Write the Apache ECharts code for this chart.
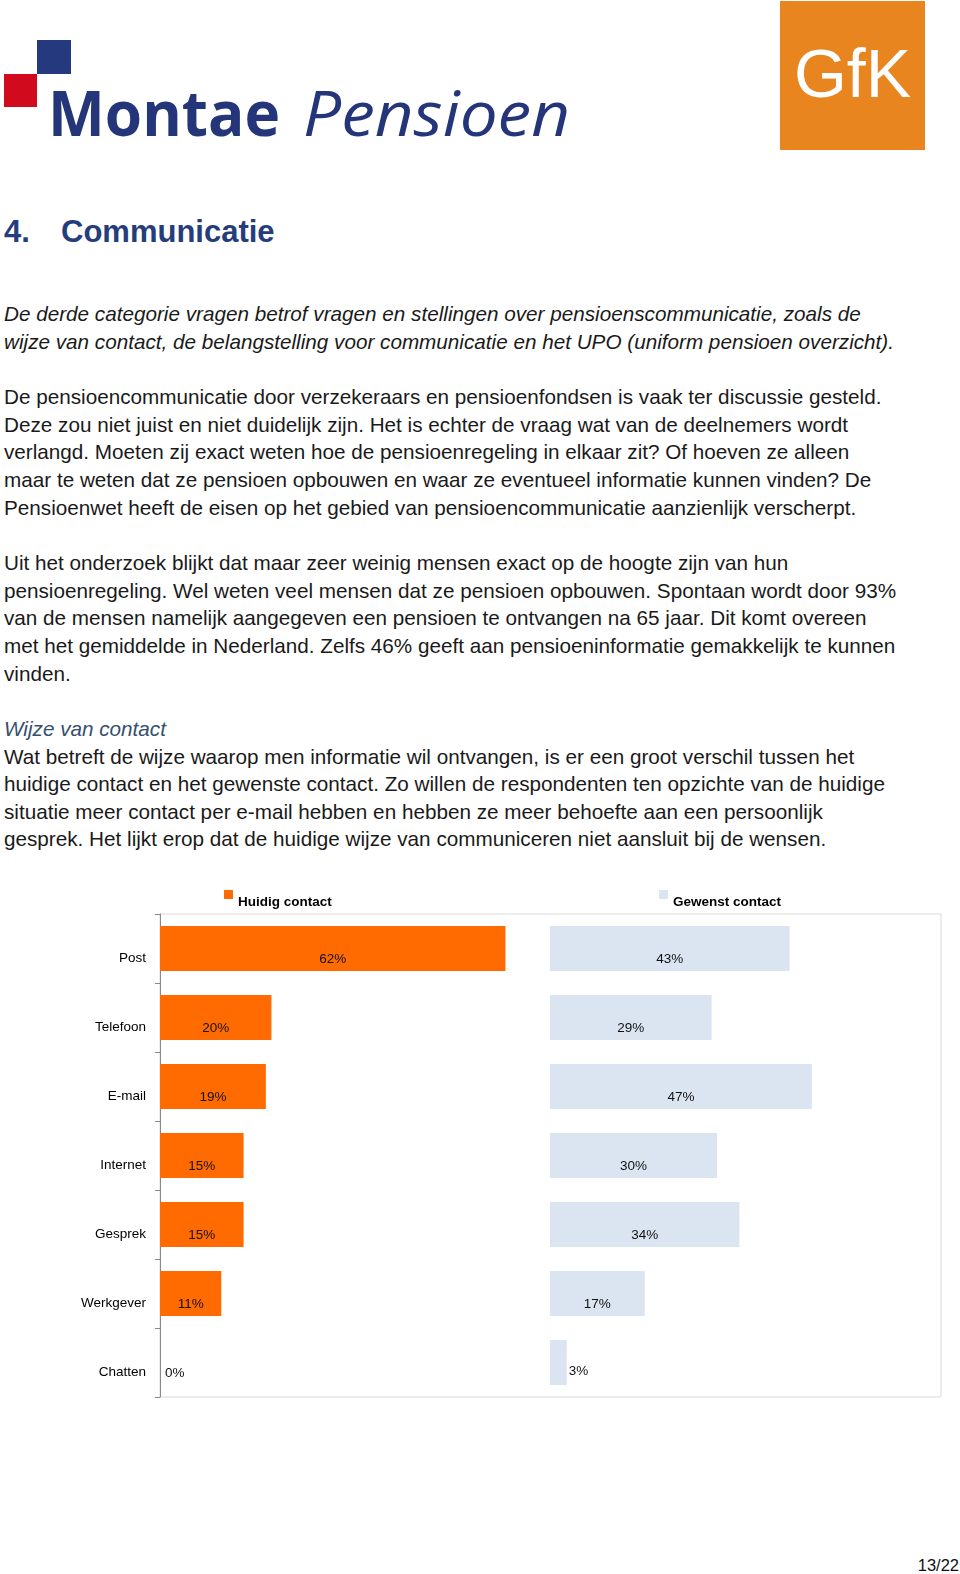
<!DOCTYPE html>
<html>
<head>
<meta charset="utf-8">
<script src="https://cdn.jsdelivr.net/npm/echarts@6/dist/echarts.min.js"></script>
<style>
  html, body { margin:0; padding:0; background:#fff; }
  #page { position:relative; width:960px; height:1574px; overflow:hidden; font-family:"Liberation Sans", Arial, sans-serif; }
  .abs { position:absolute; }
  #body { position:absolute; left:4px; top:300px; font-size:20.7px; color:#1a1a1a; }
  #body div { height:27.66px; line-height:27.66px; white-space:nowrap; }
  .sub { color:#34506e; font-style:italic; }
  #chart { position:absolute; left:0; top:860px; width:960px; height:560px; }
</style>
</head>
<body>
<div id="page">
  <!-- Montae Pensioen logo -->
  <div class="abs" style="left:4px;top:74px;width:33px;height:33px;background:#d10a1e;"></div>
  <div class="abs" style="left:37px;top:40px;width:34px;height:34px;background:#253a7e;"></div>
  <div class="abs" style="left:48px;top:72px;height:80px;line-height:80px;font-family:'Open Sans',sans-serif;font-size:63px;color:#243679;white-space:nowrap;">
    <span style="display:inline-block;font-weight:700;transform:scaleX(0.957);transform-origin:left;">Montae</span>
  </div>
  <div class="abs" style="left:303px;top:72px;height:80px;line-height:80px;font-family:'Open Sans',sans-serif;font-size:63px;color:#243679;white-space:nowrap;">
    <span style="display:inline-block;font-style:italic;font-weight:400;transform:scaleX(1.07);transform-origin:left;">Pensioen</span>
  </div>
  <!-- GfK logo -->
  <div class="abs" style="left:780px;top:1px;width:145px;height:149px;background:#e8851f;"></div>
  <div class="abs" style="left:780px;top:38px;width:145px;height:70px;line-height:70px;text-align:center;font-size:68px;color:#fff;">GfK</div>

  <!-- Heading -->
  <div class="abs" style="left:4px;top:216px;font-size:31px;line-height:31px;font-weight:700;color:#263d7c;">4.</div>
  <div class="abs" style="left:61px;top:216px;font-size:31px;line-height:31px;font-weight:700;color:#263d7c;">Communicatie</div>

  <div id="body">
    <div><i>De derde categorie vragen betrof vragen en stellingen over pensioenscommunicatie, zoals de</i></div>
    <div><i>wijze van contact, de belangstelling voor communicatie en het UPO (uniform pensioen overzicht).</i></div>
    <div></div>
    <div>De pensioencommunicatie door verzekeraars en pensioenfondsen is vaak ter discussie gesteld.</div>
    <div>Deze zou niet juist en niet duidelijk zijn. Het is echter de vraag wat van de deelnemers wordt</div>
    <div>verlangd. Moeten zij exact weten hoe de pensioenregeling in elkaar zit? Of hoeven ze alleen</div>
    <div>maar te weten dat ze pensioen opbouwen en waar ze eventueel informatie kunnen vinden? De</div>
    <div>Pensioenwet heeft de eisen op het gebied van pensioencommunicatie aanzienlijk verscherpt.</div>
    <div></div>
    <div>Uit het onderzoek blijkt dat maar zeer weinig mensen exact op de hoogte zijn van hun</div>
    <div>pensioenregeling. Wel weten veel mensen dat ze pensioen opbouwen. Spontaan wordt door 93%</div>
    <div>van de mensen namelijk aangegeven een pensioen te ontvangen na 65 jaar. Dit komt overeen</div>
    <div>met het gemiddelde in Nederland. Zelfs 46% geeft aan pensioeninformatie gemakkelijk te kunnen</div>
    <div>vinden.</div>
    <div></div>
    <div class="sub">Wijze van contact</div>
    <div>Wat betreft de wijze waarop men informatie wil ontvangen, is er een groot verschil tussen het</div>
    <div>huidige contact en het gewenste contact. Zo willen de respondenten ten opzichte van de huidige</div>
    <div>situatie meer contact per e-mail hebben en hebben ze meer behoefte aan een persoonlijk</div>
    <div>gesprek. Het lijkt erop dat de huidige wijze van communiceren niet aansluit bij de wensen.</div>
  </div>

  <div id="chart"></div>

  <div class="abs" style="right:1px;top:1555px;font-size:16.5px;line-height:20px;color:#111;">13/22</div>
</div>

<script>
// ---- data ----
const categories = ['Post', 'Telefoon', 'E-mail', 'Internet', 'Gesprek', 'Werkgever', 'Chatten'];
const huidigValues = [62, 20, 19, 15, 15, 11, 0];
const gewenstValues = [43, 29, 47, 30, 34, 17, 3];
const seriesNames = ['Huidig contact', 'Gewenst contact'];

const FONT = '"Liberation Sans", Arial, sans-serif';
const ICON = 'path://M0,0L9,0L9,9L0,9ZM9,24L9.01,24L9.01,24.01Z';

function buildData(values, smallOffsetY, smallDist) {
  return values.map(v => v < 5
    ? { value: v, label: { position: 'right', distance: smallDist, offset: [0, smallOffsetY] } }
    : { value: v });
}

const chart = echarts.init(document.getElementById('chart'));
const labelBase = {
  show: true, position: 'inside', offset: [0, 11],
  formatter: '{c}%', fontSize: 13.5, color: '#111', fontFamily: FONT
};
chart.setOption({
  animation: false,
  textStyle: { fontFamily: FONT },
  legend: [
    { data: [seriesNames[0]], left: 224, top: 30, padding: 0, itemWidth: 9, itemHeight: 24, icon: ICON,
      textStyle: { fontSize: 13.5, fontWeight: 'bold', color: '#000', fontFamily: FONT } },
    { data: [seriesNames[1]], left: 659, top: 30, padding: 0, itemWidth: 9, itemHeight: 24, icon: ICON,
      textStyle: { fontSize: 13.5, fontWeight: 'bold', color: '#000', fontFamily: FONT } }
  ],
  grid: [
    { left: 160, top: 54, width: 390, height: 483 },
    { left: 550, top: 54, width: 390, height: 483 },
    { left: 160, top: 54, width: 781, height: 483, show: true, borderColor: '#d9d9d9', borderWidth: 1, backgroundColor: 'transparent' }
  ],
  xAxis: [
    { gridIndex: 0, type: 'value', min: 0, max: 70, show: false },
    { gridIndex: 1, type: 'value', min: 0, max: 70, show: false },
    { gridIndex: 2, type: 'value', min: 0, max: 1, show: false }
  ],
  yAxis: [
    { gridIndex: 0, type: 'category', data: categories, inverse: true,
      axisLine: { show: true, lineStyle: { color: '#898989', width: 1 } },
      axisTick: { show: true, length: 5, lineStyle: { color: '#898989' } },
      axisLabel: { fontSize: 13.5, color: '#000', margin: 14, verticalAlign: 'top', lineHeight: 20, fontFamily: FONT },
      splitLine: { show: false } },
    { gridIndex: 1, type: 'category', data: categories, inverse: true, show: false },
    { gridIndex: 2, type: 'value', min: 0, max: 1, show: false }
  ],
  series: [
    { name: seriesNames[0], type: 'bar', xAxisIndex: 0, yAxisIndex: 0, barWidth: 45,
      itemStyle: { color: '#ff6b00' }, label: labelBase, data: buildData(huidigValues, 11, 5) },
    { name: seriesNames[1], type: 'bar', xAxisIndex: 1, yAxisIndex: 1, barWidth: 45,
      itemStyle: { color: '#dbe5f1' }, label: labelBase, data: buildData(gewenstValues, 9, 2) }
  ]
});
</script>
</body>
</html>
